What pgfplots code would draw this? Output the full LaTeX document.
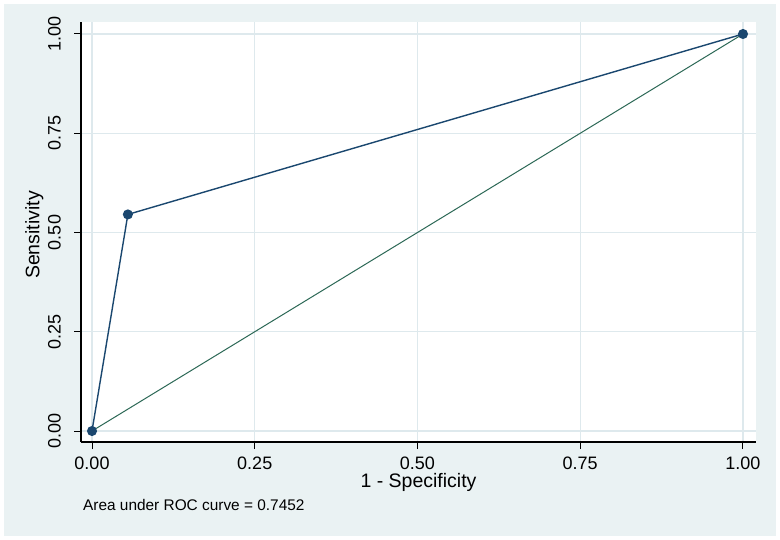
\documentclass[border=0pt]{standalone}
\usepackage{fontspec}
\setmainfont{Liberation Sans}
\usepackage{pgfplots}
\pgfplotsset{compat=1.18}
\definecolor{stbg}{RGB}{234,242,243}
\definecolor{stgrid}{RGB}{222,233,237}
\definecolor{stnavy}{RGB}{26,71,111}
\definecolor{stgreen}{RGB}{44,104,86}

\begin{document}
\begin{tikzpicture}
% page and Stata-like outer background
\fill[white] (0,0) rectangle (780bp,-540bp);
\fill[stbg] (4bp,-4bp) rectangle (776bp,-536bp);
\begin{axis}[
    at={(81bp,-442bp)}, anchor=south west,
    width=675bp, height=420bp, scale only axis,
    xmin=-0.0169, xmax=1.0200,
    ymin=-0.0277, ymax=1.0302,
    axis background/.style={fill=white},
    axis x line*=bottom, axis y line*=left,
    axis line style={black, line width=1.1bp},
    xtick={0,0.25,0.5,0.75,1},
    ytick={0,0.25,0.5,0.75,1},
    tick align=outside, major tick length=7bp,
    tick style={black, line width=1bp},
    grid=major, major grid style={stgrid, line width=1.3bp},
    xticklabel={\pgfmathprintnumber[fixed,fixed zerofill,precision=2,assume math mode=true]{\tick}},
    yticklabel={\pgfmathprintnumber[fixed,fixed zerofill,precision=2,assume math mode=true]{\tick}},
    xticklabel style={font=\fontsize{18bp}{20bp}\selectfont, anchor=north, inner sep=0pt, yshift=-8bp},
    yticklabel style={font=\fontsize{18bp}{20bp}\selectfont, xshift=-13bp, rotate=90, anchor=south, inner sep=0pt},
]
\addplot[stgreen, line width=1bp] coordinates {(0,0) (1,1)};
\addplot[stnavy, line width=1.4bp, mark=*, mark size=4.3bp, mark options={fill=stnavy}]
    coordinates {(0,0) (0.0551,0.5455) (1,1)};
\end{axis}
\node[anchor=north, inner sep=0pt, font=\fontsize{19.5bp}{22bp}\selectfont] at (418.5bp,-473bp) {1 - Specificity};
\node[rotate=90, anchor=north, inner sep=0pt, font=\fontsize{19.5bp}{22bp}\selectfont] at (25bp,-235bp) {Sensitivity};
\node[anchor=base west, inner sep=0pt, font=\fontsize{15.4bp}{17bp}\selectfont] at (83bp,-510bp) {Area under ROC curve = 0.7452};
\end{tikzpicture}
\end{document}
